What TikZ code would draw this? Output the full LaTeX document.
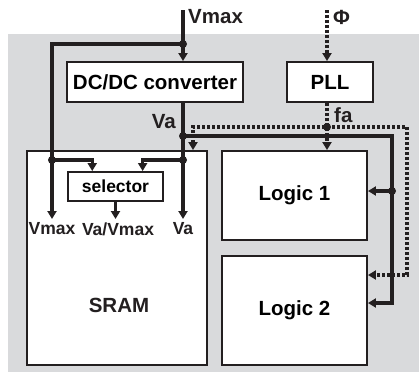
\documentclass[tikz,border=0pt]{standalone}
\usepackage{fontspec}
\setmainfont{Liberation Sans}
\usetikzlibrary{arrows.meta,calc}
\definecolor{fond}{RGB}{217,218,220}
\definecolor{trait}{RGB}{35,31,32}

\begin{document}
\begin{tikzpicture}[x=1pt,y=-1pt,
	bloc/.style={draw=trait,line width=1.9pt,fill=white,inner sep=0pt,font=\bfseries\fontsize{20.5}{21}\selectfont},
	fil/.style={draw=trait,line width=3.3pt,-{Triangle[length=8pt,width=9pt]}},
	pointille/.style={draw=trait,line width=3.3pt,dash pattern=on 3pt off 2pt},
	etiq/.style={font=\bfseries\fontsize{20.5}{21}\selectfont,inner sep=1pt,text=trait},
	petit/.style={font=\bfseries\fontsize{17.5}{18}\selectfont,inner sep=1pt,text=trait}]
	\useasboundingbox (0,0) rectangle (419,376);
	
	%FOND
	\fill[fond] (8,34) rectangle (419,372);
	
	%BLOCS
	\node[bloc,minimum width=176pt,minimum height=40pt] (dcdc) at (155,82) {DC/DC converter};
	\node[bloc,minimum width=86pt,minimum height=40pt] (pll) at (330,82) {PLL};
	\node[bloc,minimum width=180pt,minimum height=214pt] (sram) at (117,258) {};
	\node[etiq] (sramtxt) at (119,305) {SRAM};
	\node[bloc,minimum width=145pt,minimum height=89pt] (logica) at (294.5,195.5) {Logic 1};
	\node[bloc,minimum width=145pt,minimum height=109pt] (logicb) at (294.5,310.5) {Logic 2};
	\node[bloc,minimum width=95pt,minimum height=29pt,font=\bfseries\fontsize{17.5}{18}\selectfont] (sel) at (115.5,186.5) {selector};
	
	%POINTS
	\coordinate (vin) at (183,10);
	\coordinate (jmax) at (183,44);
	\coordinate (jva) at (183,136);
	\coordinate (jva2) at (183,160);
	\coordinate (jvm2) at (52,160);
	\coordinate (out) at (0,219);
	\coordinate (jbus1) at (392,191);
	\coordinate (jbus2) at (392,303);
	\coordinate (fin) at (327,10);
	\coordinate (jfa) at (327,127);
	\coordinate (fl) at (193,127);
	\coordinate (fr) at (407,127);
	\coordinate (fb) at (407,275);
	
	%VMAX
	\draw[fil] (vin) -- (vin |- dcdc.north);
	\draw[fil] (jmax) -| (jvm2 |- out);
	\draw[fil] (jvm2) -| ($(sel.north west)!0.26!(sel.north east)$);
	\node[etiq,anchor=west] (lvin) at (187,17) {Vmax};
	
	%VA
	\draw[fil] (jva |- dcdc.south) -- (jva |- out);
	\draw[fil] (jva2) -| ($(sel.north west)!0.78!(sel.north east)$);
	\draw[fil] (sel.south) -- (sel.south |- out);
	\node[etiq,anchor=east] (lva) at (177,122) {Va};
	\draw[fil] (jva) -| (jbus2) -- (jbus2 -| logicb.east);
	\draw[fil] (jbus1) -- (jbus1 -| logica.east);
	
	%HORLOGE
	\draw[pointille,-{Triangle[length=8pt,width=9pt]}] (fin) -- (fin |- pll.north);
	\draw[pointille,-{Triangle[length=8pt,width=9pt]}] (jfa |- pll.south) -- (jfa |- logica.north);
	\draw[pointille,{Triangle[length=8pt,width=9pt]}-{Triangle[length=8pt,width=9pt]}] (fl |- sram.north) -- (fl) -- (fr) -- (fb) -- (fb -| logicb.east);
	\node[etiq,anchor=west] (lphi) at (332,17) {Φ};
	\node[etiq,anchor=west] (lfa) at (333,115) {fa};
	
	%SORTIES
	\node[petit] (svmax) at (52,229) {Vmax};
	\node[petit] (svavm) at (118,229) {Va/Vmax};
	\node[petit] (sva) at (183,229) {Va};
	
	%NOEUDS
	\foreach \p in {jmax,jva,jva2,jvm2,jbus1,jfa}
		\fill[trait] (\p) circle (4pt);
	
\end{tikzpicture}
\end{document}
